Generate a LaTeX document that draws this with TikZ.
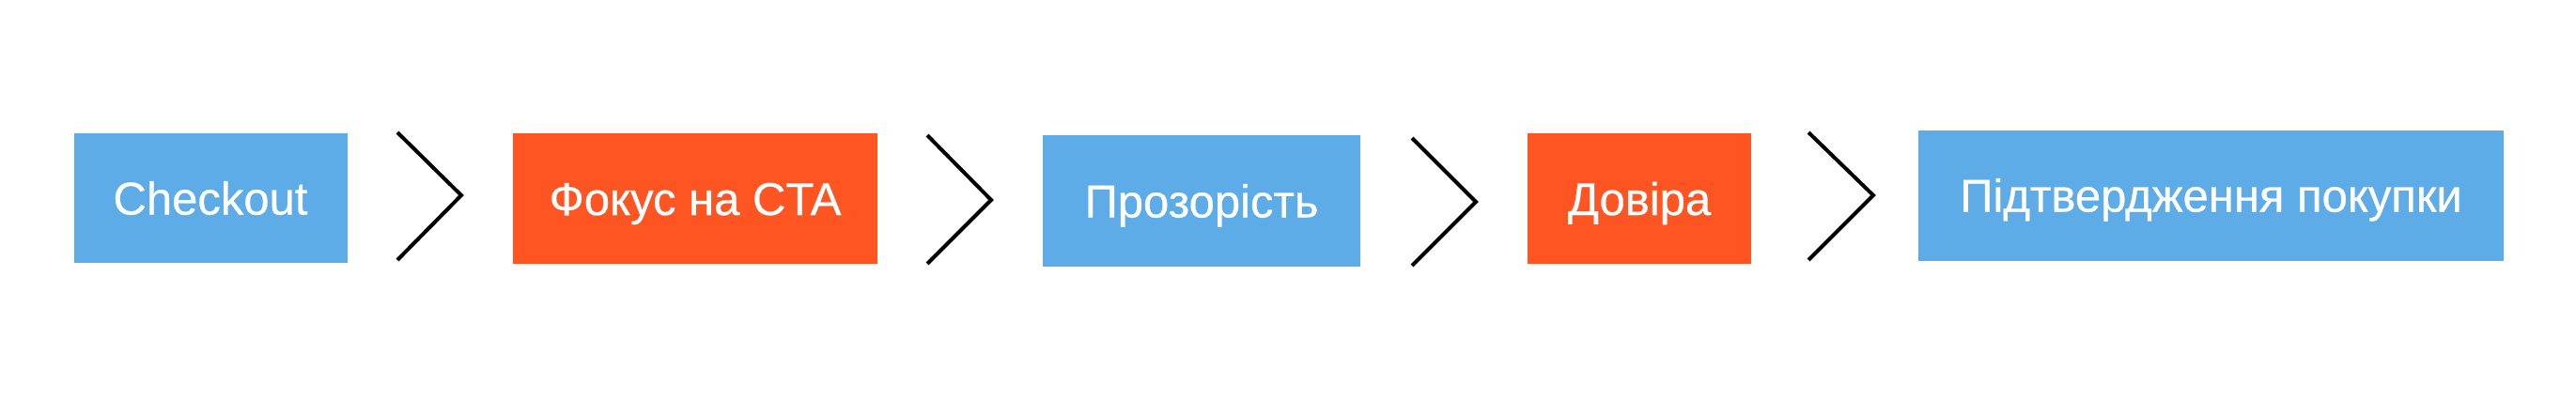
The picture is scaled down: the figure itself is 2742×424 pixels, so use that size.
\documentclass[tikz,border=0pt]{standalone}
\usepackage{fontspec}
\setmainfont[FakeBold=0.5]{Liberation Sans}
\definecolor{cblue}{HTML}{5DACE8}
\definecolor{corange}{HTML}{FF5523}
\begin{document}
\begin{tikzpicture}[x=1pt,y=-1pt,
  stepbox/.style={rectangle, inner sep=0pt, draw=none, text=white,
    font=\fontsize{49}{50}\selectfont, text height=35pt, text depth=0pt},
  chev/.style={draw=black, line width=4pt, line join=miter}]
\useasboundingbox (0,0) rectangle (2742,424);
\fill[white] (0,0) rectangle (2742,424);
\node[stepbox, fill=cblue, minimum width=291pt, minimum height=138pt] (b1) at (224,211) {Checkout};
\node[stepbox, fill=corange, minimum width=388pt, minimum height=139pt] (b2) at (740,211.5) {Фокус на CTA};
\node[stepbox, fill=cblue, minimum width=338pt, minimum height=140pt] (b3) at (1279,214) {Прозорість};
\node[stepbox, fill=corange, minimum width=238pt, minimum height=139pt] (b4) at (1745,211.5) {Довіра};
\node[stepbox, fill=cblue, minimum width=623pt, minimum height=139pt] (b5) at (2353.5,208) {Підтвердження покупки};
% chevrons
\coordinate (c1a) at (423,141); \coordinate (c1b) at (491,208); \coordinate (c1c) at (423,277);
\coordinate (c2a) at (987,144); \coordinate (c2b) at (1055,213); \coordinate (c2c) at (987,281);
\coordinate (c3a) at (1503,147); \coordinate (c3b) at (1571,215); \coordinate (c3c) at (1503,283);
\coordinate (c4a) at (1925,141); \coordinate (c4b) at (1994,208); \coordinate (c4c) at (1925,277);
\draw[chev] (c1a) -- (c1b) -- (c1c);
\draw[chev] (c2a) -- (c2b) -- (c2c);
\draw[chev] (c3a) -- (c3b) -- (c3c);
\draw[chev] (c4a) -- (c4b) -- (c4c);
\end{tikzpicture}
\end{document}
